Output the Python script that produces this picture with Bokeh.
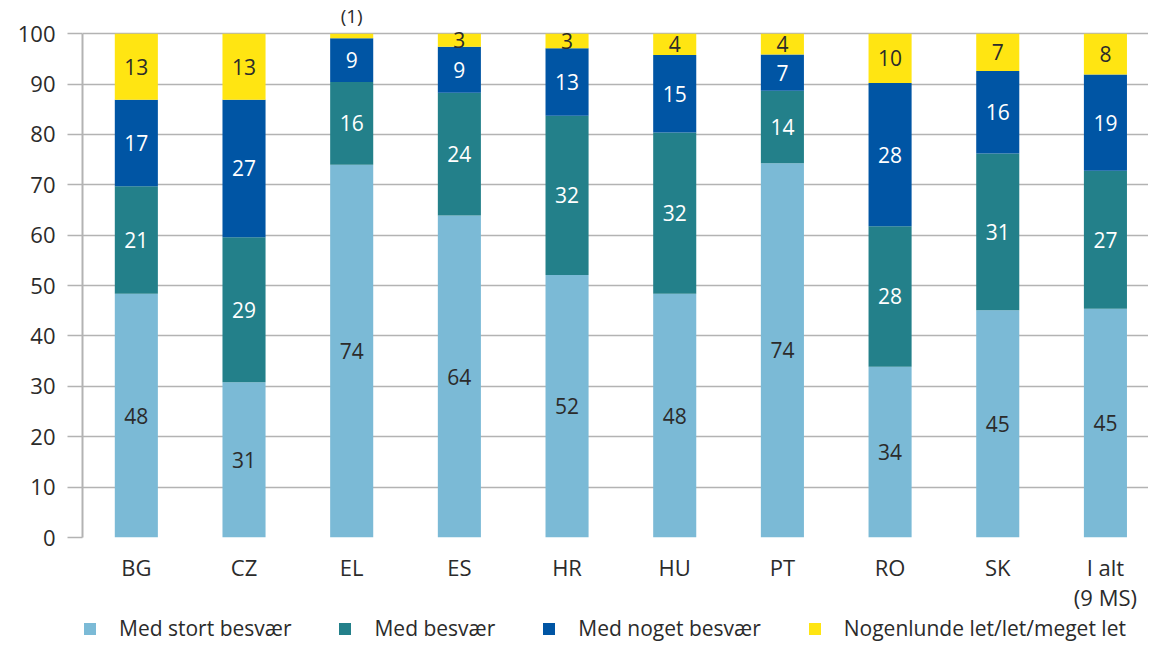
from bokeh.plotting import figure
from bokeh.layouts import column
from bokeh.models import ColumnDataSource, LabelSet, Legend, LegendItem, Range1d, FixedTicker
from bokeh.embed import file_html
from bokeh.resources import INLINE
from bokeh.core.properties import value, field

# ---- data ----
countries = ["BG", "CZ", "EL", "ES", "HR", "HU", "PT", "RO", "SK", "I alt\n(9 MS)"]
med_stort = [48.4, 30.8, 74.0, 63.9, 52.1, 48.4, 74.3, 33.9, 45.1, 45.4]
med = [21.3, 28.8, 16.4, 24.4, 31.6, 32.0, 14.4, 27.9, 31.1, 27.4]
med_noget = [17.2, 27.3, 8.7, 9.1, 13.4, 15.4, 7.2, 28.4, 16.4, 19.1]
let_ = [13.1, 13.1, 0.9, 2.6, 2.9, 4.2, 4.1, 9.8, 7.4, 8.1]
series_names = ["Med stort besvær", "Med besvær", "Med noget besvær",
                "Nogenlunde let/let/meget let"]
y_ticks = [0, 10, 20, 30, 40, 50, 60, 70, 80, 90, 100]

# ---- styles ----
colors = ["#7BBAD6", "#23808A", "#0055A4", "#FFE512"]
label_colors = ["#2b2b2b", "#ffffff", "#ffffff", "#2b2b2b"]
FONT = "Open Sans"
GRID = "#b3b3b3"
TXT = "#2b2b2b"

xs = [i + 0.5 for i in range(len(countries))]
keys = ["s0", "s1", "s2", "s3"]
series = [med_stort, med, med_noget, let_]
data = {"x": xs}
for k, s in zip(keys, series):
    data[k] = s
source = ColumnDataSource(data)

p = figure(x_range=Range1d(0, 9.9), y_range=Range1d(0, 106),
           width=1148, height=614, output_backend="svg", toolbar_location=None,
           min_border_left=82, min_border_right=0, min_border_top=3,
           min_border_bottom=77)
p.outline_line_color = None
p.background_fill_color = "white"
p.border_fill_color = "white"

renderers = p.vbar_stack(keys, x="x", width=0.4, color=colors,
                         line_color=None, source=source)

# labels inside segments / above for tiny segments
lx, ly, lt, lc = [], [], [], []
ax, ay, at = [], [], []
for i, x in enumerate(xs):
    base = 0.0
    for j, s in enumerate(series):
        v = s[i]
        if v >= 2:
            lx.append(x)
            ly.append(base + v / 2)
            lt.append(str(int(round(v))))
            lc.append(label_colors[j])
        else:
            ax.append(x)
            ay.append(base + v)
            at.append("(" + str(int(round(v))) + ")")
        base += v

lab_src = ColumnDataSource(dict(x=lx, y=ly, t=lt, c=lc))
p.add_layout(LabelSet(x="x", y="y", text="t", source=lab_src,
                      text_color=field("c"), text_font=value(FONT),
                      text_font_size="21px", text_align="center",
                      text_baseline="middle"))
above_src = ColumnDataSource(dict(x=ax, y=ay, t=at))
p.add_layout(LabelSet(x="x", y="y", text="t", source=above_src,
                      text_color=TXT, text_font=value(FONT),
                      text_font_size="19px", text_align="center",
                      text_baseline="bottom", y_offset=5))

# axes
p.yaxis.ticker = FixedTicker(ticks=y_ticks)
p.yaxis.bounds = (0, 100)
p.yaxis.axis_line_color = GRID
p.yaxis.axis_line_width = 2
p.yaxis.major_tick_line_color = GRID
p.yaxis.major_tick_line_width = 1.5
p.yaxis.major_tick_out = 15
p.yaxis.major_tick_in = 0
p.yaxis.minor_tick_line_color = None
p.yaxis.major_label_standoff = 12
p.yaxis.major_label_text_font = FONT
p.yaxis.major_label_text_font_size = "22px"
p.yaxis.major_label_text_color = TXT

p.xaxis.ticker = FixedTicker(ticks=xs)
p.xaxis.major_label_overrides = {x: c for x, c in zip(xs, countries)}
p.xaxis.axis_line_color = None
p.xaxis.major_tick_line_color = None
p.xaxis.minor_tick_line_color = None
p.xaxis.major_label_standoff = 8
p.xaxis.major_label_text_font = FONT
p.xaxis.major_label_text_font_size = "22px"
p.xaxis.major_label_text_color = TXT
p.xaxis.major_label_text_line_height = 1.0

p.xgrid.grid_line_color = None
p.ygrid.grid_line_color = GRID
p.ygrid.grid_line_width = 1.5
p.ygrid.bounds = (0, 100)

# ---- legend strip (separate figure below, same data kept out of view) ----
lg = figure(x_range=Range1d(0, 9.9), y_range=Range1d(1000, 1001),
            width=1148, height=27, output_backend="svg", toolbar_location=None,
            x_axis_location=None, y_axis_location=None,
            min_border_left=82, min_border_right=0, min_border_top=0,
            min_border_bottom=0)
lg.outline_line_color = None
lg.xgrid.grid_line_color = None
lg.ygrid.grid_line_color = None
lg.border_fill_color = "white"
lg_rends = lg.vbar_stack(keys, x="x", width=0.4, color=colors,
                         line_color=None, source=source)
legend = Legend(items=[LegendItem(label=n, renderers=[r])
                       for n, r in zip(series_names, lg_rends)],
                orientation="horizontal", location="top_left",
                glyph_width=15, glyph_height=15, label_standoff=22, spacing=46,
                label_text_font=FONT, label_text_font_size="21px",
                label_text_color=TXT, border_line_color=None,
                background_fill_alpha=0, padding=0, margin=0)
lg.add_layout(legend, "center")

layout = column(p, lg, spacing=0)
open("out.html", "w").write(file_html(layout, INLINE))
